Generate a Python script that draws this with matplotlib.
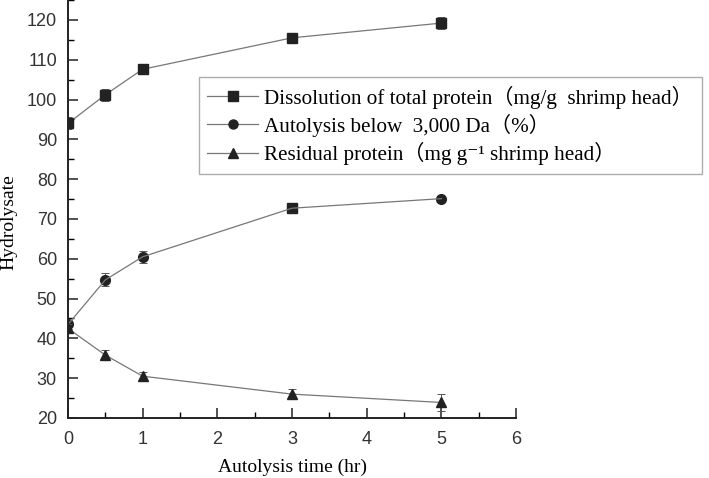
import matplotlib

matplotlib.use("Agg")
import matplotlib.pyplot as plt
from matplotlib.lines import Line2D
from matplotlib.ticker import MultipleLocator

# --- data -----------------------------------------------------------------------
time_hr = [0, 0.5, 1, 3, 5]

total_protein = [94.0, 101.2, 107.6, 115.5, 119.2]
total_protein_err = [1.5, 1.5, 0.8, 0.6, 1.6]

autolysis_3k = [43.5, 54.7, 60.5, 72.7, 75.1]
autolysis_3k_err = [1.2, 1.6, 1.5, 0.6, 0.6]
# the source figure plots the 3 h point of this series with a square marker
autolysis_markers = ["o", "o", "o", "s", "o"]

residual_protein = [42.5, 35.8, 30.5, 26.0, 23.9]
residual_protein_err = [1.0, 1.2, 1.0, 1.2, 2.2]

labels = [
    "Dissolution of total protein（mg/g  shrimp head）",
    "Autolysis below  3,000 Da（%）",
    "Residual protein（mg g\u207b\u00b9 shrimp head）",
]

serif = ["Liberation Serif", "Noto Sans CJK SC", "DejaVu Serif"]
sans = ["Liberation Sans", "DejaVu Sans"]

fig = plt.figure(figsize=(7.09, 4.78), dpi=100)
ax = fig.add_axes([68 / 709, 60 / 478, 448 / 709, 418 / 478])

line_kw = dict(color="#777777", lw=0.9, ms=6.5, mfc="#222222", mec="#222222",
               ecolor="#555555", elinewidth=0.7, capsize=3, capthick=0.7)

ax.errorbar(time_hr, total_protein, yerr=total_protein_err, marker="s", **line_kw)

ax.errorbar(time_hr, autolysis_3k, yerr=autolysis_3k_err, marker="None", **line_kw)
for x, y, m in zip(time_hr, autolysis_3k, autolysis_markers):
    ax.plot(x, y, marker=m, ms=7 if m == "o" else 6.5, color="#222222", ls="None")

ax.errorbar(time_hr, residual_protein, yerr=residual_protein_err, marker="^",
            **line_kw)

# legend handles without the error bars, as in the source
handles = [
    Line2D([], [], color="#777777", lw=0.9, marker=m, ms=6.5,
           mfc="#222222", mec="#222222")
    for m in ("s", "o", "^")
]

ax.set_xlim(0, 6)
ax.set_ylim(20, 125)
ax.xaxis.set_major_locator(MultipleLocator(1))
ax.xaxis.set_minor_locator(MultipleLocator(0.5))
ax.yaxis.set_major_locator(MultipleLocator(10))
ax.yaxis.set_minor_locator(MultipleLocator(5))
ax.tick_params(which="major", direction="in", length=7, width=1.2, labelsize=13,
               colors="#333333")
ax.tick_params(axis="y", pad=8)
ax.tick_params(axis="x", pad=9)
ax.tick_params(which="minor", direction="in", length=4, width=1.0)
for lbl in ax.get_xticklabels() + ax.get_yticklabels():
    lbl.set_family(sans)

for side in ("top", "right"):
    ax.spines[side].set_visible(False)
for side in ("left", "bottom"):
    ax.spines[side].set_linewidth(1.4)
    ax.spines[side].set_color("#222222")

ax.set_xlabel("Autolysis time (hr)", family=serif, fontsize=14, labelpad=8)
fig.text(9 / 709, 1 - 222 / 478, "Hydrolysate", family=serif, fontsize=14,
         rotation=90, ha="center", va="center")

leg = fig.legend(handles=handles, labels=labels, loc="upper left",
                 bbox_to_anchor=(199 / 709, 1 - 77 / 478), borderaxespad=0,
                 frameon=True, fancybox=False, edgecolor="#999999",
                 handlelength=2.4, handletextpad=0.3, labelspacing=0.25,
                 borderpad=0.4, prop={"family": serif, "size": 15.2})
leg.get_frame().set_linewidth(1.0)

fig.savefig("out.png", dpi=100)
